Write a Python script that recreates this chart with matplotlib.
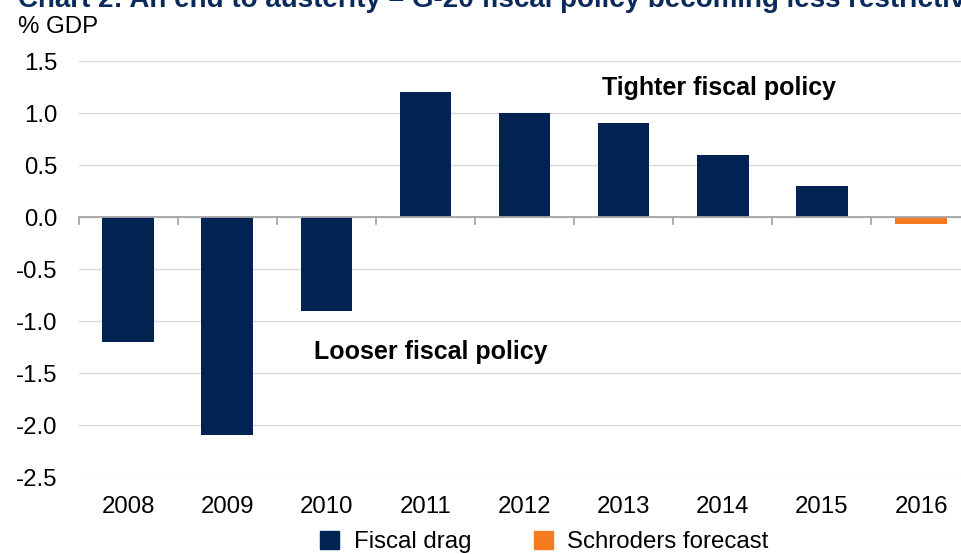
import matplotlib
matplotlib.use("Agg")
import matplotlib.pyplot as plt
from matplotlib.patches import Patch
import numpy as np

plt.rcParams['font.family'] = ['Liberation Sans', 'DejaVu Sans']

years = ['2008', '2009', '2010', '2011', '2012', '2013', '2014', '2015', '2016']
fiscal_drag = [-1.2, -2.1, -0.9, 1.2, 1.0, 0.9, 0.6, 0.3, None]
forecast = [None, None, None, None, None, None, None, None, -0.07]
yticks = [1.5, 1.0, 0.5, 0.0, -0.5, -1.0, -1.5, -2.0, -2.5]

navy = '#002352'
orange = '#f47b20'
FS = 17.3

fig = plt.figure(figsize=(9.62, 5.54), dpi=100)
W, H = 962, 554
ax = fig.add_axes([78.5 / W, 1 - 477 / H, (970.6 - 78.5) / W, (477 - 61) / H])

x = np.arange(len(years))
fd = [v if v is not None else 0 for v in fiscal_drag]
fc = [v if v is not None else 0 for v in forecast]
ax.bar(x, fd, width=0.52, color=navy, zorder=3)
ax.bar(x, fc, width=0.52, color=orange, zorder=3)

ax.set_xlim(-0.5, len(years) - 0.5)
ax.set_ylim(-2.5, 1.5)
ax.set_yticks(yticks)
ax.set_yticklabels([f'{v:.1f}' for v in yticks], fontsize=FS)
ax.yaxis.grid(True, color='#d9d9d9', linewidth=1, zorder=0)
ax.axhline(0, color='#a6a6a6', linewidth=1.3, zorder=4)
for b in np.arange(-0.5, len(years), 1.0):
    ax.plot([b, b], [0, -0.07], color='#a6a6a6', linewidth=1.3, zorder=4, clip_on=False)
ax.tick_params(axis='y', length=0, pad=15)
ax.tick_params(axis='x', length=0, pad=14)
ax.set_xticks(x)
ax.set_xticklabels(years, fontsize=FS)
for s in ax.spines.values():
    s.set_visible(False)

ax.text(5.96, 1.24, 'Tighter fiscal policy', fontsize=18, fontweight='bold', ha='center', va='center')
ax.text(3.05, -1.30, 'Looser fiscal policy', fontsize=18, fontweight='bold', ha='center', va='center')

fig.text(18 / W, 1 - 27 / H, '% GDP', fontsize=FS, ha='left', va='center')
fig.text(18 / W, 1 - 7 / H, 'Chart 2: An end to austerity \u2013 G-20 fiscal policy becoming less restrictive',
         fontsize=20, fontweight='bold', color='#0b2a5c', ha='left', va='baseline')

handles = [Patch(facecolor=navy, edgecolor=navy), Patch(facecolor=orange, edgecolor=orange)]
fig.legend(handles, ['Fiscal drag', 'Schroders forecast'], loc='center', bbox_to_anchor=(0.566, 1 - 542 / H),
           ncol=2, frameon=False, fontsize=FS, handlelength=0.8, handleheight=0.8,
           columnspacing=2.6, handletextpad=0.6, borderpad=0)

fig.savefig('out.png', dpi=100)
